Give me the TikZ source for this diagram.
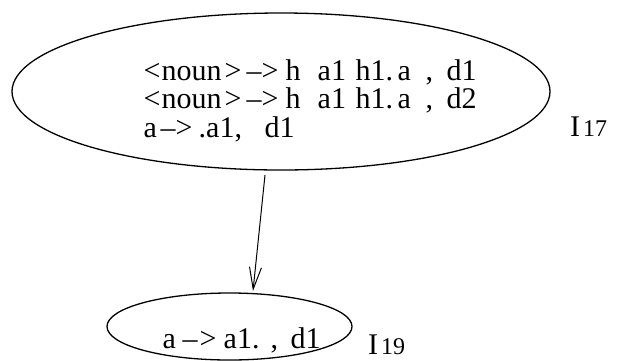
\documentclass[tikz,border=0pt]{standalone}
\usepackage{fontspec}
\setmainfont{Liberation Serif}
\usetikzlibrary{shapes.geometric,arrows.meta}
\newcommand{\tk}[2]{\rlap{\hspace{#1pt}#2}}
\begin{document}
\begin{tikzpicture}[x=1pt,y=-1pt,
  state/.style={draw, ellipse, inner sep=0pt, line width=1.3pt},
  rule/.style={anchor=base west, inner sep=0pt, font=\fontsize{30}{30}\selectfont},
  lbl/.style={anchor=base west, inner sep=0pt},
  conn/.style={-{Straight Barb[length=22pt,width=12pt]}, line width=1pt}]
\useasboundingbox (0,0) rectangle (618,360);
\fill[white] (0,0) rectangle (618,360);
\node[state, minimum width=538pt, minimum height=157pt] (top) at (281,91.5) {};
\node[state, minimum width=245pt, minimum height=67pt] (bot) at (229.5,326.5) {};
\node[rule] (l1) at (143,80) {\tk{0}{<}\tk{18}{noun}\tk{81}{>}\tk{103}{--}\tk{118}{>}\tk{142}{h}\tk{174}{a1}\tk{212}{h1.}\tk{254}{a}\tk{282}{,}\tk{303}{d1}\hspace{333pt}};
\node[rule] (l2) at (143,108.5) {\tk{0}{<}\tk{18}{noun}\tk{81}{>}\tk{103}{--}\tk{118}{>}\tk{142}{h}\tk{174}{a1}\tk{212}{h1.}\tk{254}{a}\tk{282}{,}\tk{303}{d2}\hspace{333pt}};
\node[rule] (l3) at (143,137) {\tk{0}{a}\tk{17}{--}\tk{32}{>}\tk{55}{.a1,}\tk{121}{d1}\hspace{151pt}};
\node[rule] (b1) at (162,348) {\tk{0}{a}\tk{20}{--}\tk{37}{>}\tk{61}{a1.}\tk{108}{,}\tk{128}{d1}\hspace{158pt}};
\node[lbl] (i17) at (570,136) {{\fontsize{30}{30}\selectfont I}\kern3pt{\fontsize{24}{24}\selectfont 17}};
\node[lbl] (i19) at (368,354) {{\fontsize{30}{30}\selectfont I}\kern3pt{\fontsize{24}{24}\selectfont 19}};
\coordinate (s) at (265,175);
\coordinate (e) at (253,291);
\draw[conn] (s) -- (e);
\end{tikzpicture}
\end{document}
